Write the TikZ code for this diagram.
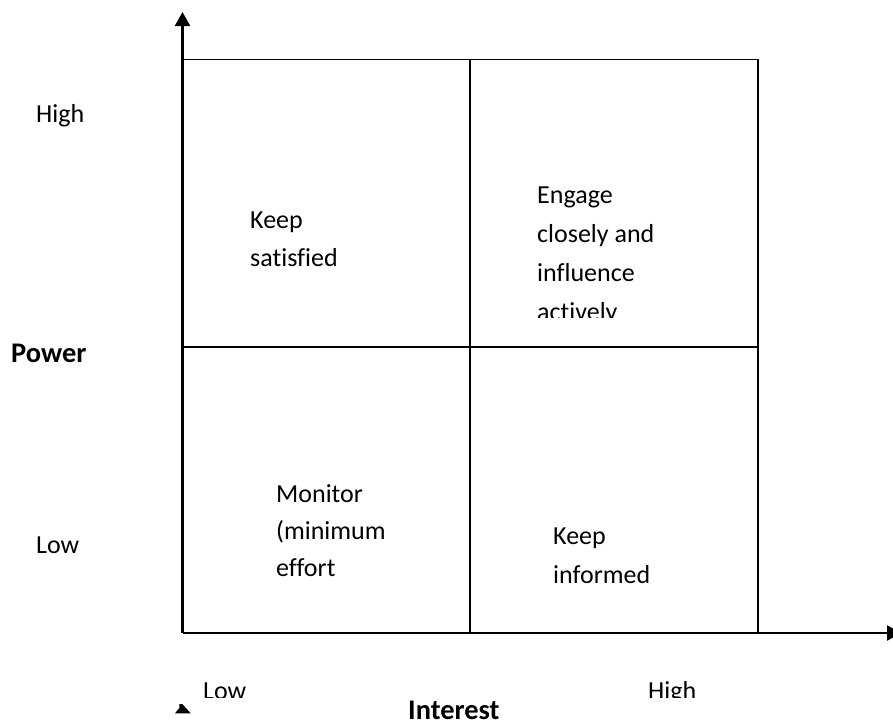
\documentclass[tikz,border=0pt]{standalone}
\usepackage{fontspec}
\setmainfont{Carlito}[Ligatures=NoCommon]
\usetikzlibrary{arrows.meta}
\begin{document}
\begin{tikzpicture}[x=1pt,y=-1pt,
  cell/.style={anchor=base west,inner sep=0pt,align=left,font=\fontsize{26}{#1}\selectfont},
  lbl/.style={anchor=base west,inner sep=0pt,font=\fontsize{26}{31}\selectfont},
  blbl/.style={anchor=base west,inner sep=0pt,font=\fontsize{28.4}{34}\selectfont\bfseries},
  gridline/.style={line width=1.6pt},
  axis/.style={line width=2.4pt,-{Triangle[length=14pt,width=15pt]}}]
\useasboundingbox (0,0) rectangle (893,724);
% axes
\coordinate (O) at (182.5,633);
\coordinate (ytip) at (182.5,12);
\coordinate (xtip) at (901,633);
\draw[axis] (O) -- (ytip);
\draw[axis] (O) -- (xtip);
% box
\coordinate (TL) at (182.5,59.5);
\coordinate (TR) at (758,59.5);
\coordinate (BR) at (758,633);
\coordinate (TM) at (470,59.5);
\coordinate (BM) at (470,633);
\coordinate (ML) at (182.5,347);
\coordinate (MR) at (758,347);
\draw[gridline] (TL) -- (TR) -- (BR);
\draw[gridline] (TM) -- (BM);
\draw[gridline] (ML) -- (MR);
% cell texts (base anchor = baseline of last line)
\node[cell=38] (ks) at (250,266) {Keep\\satisfied};
\begin{scope}
\clip (500,150) rectangle (760,317);
\node[cell=39] (eng) at (537,320) {Engage\\closely and\\influence\\actively};
\end{scope}
\node[cell=37] (mon) at (276,576.7) {Monitor\\(minimum\\effort};
\node[cell=39] (ki) at (553,583) {Keep\\informed};
% axis labels
\node[lbl] (hiP) at (36,122) {High};
\node[lbl] (loP) at (36,553) {Low};
\node[blbl] (pow) at (11,362) {Power};
\begin{scope}
\clip (190,670) rectangle (760,697);
\node[lbl] (loI) at (203,699.5) {Low};
\node[lbl] (hiI) at (648,699.5) {High};
\end{scope}
\node[blbl] (int) at (408,719.5) {Interest};
% small mark
\fill (175,713.3) -- (190.7,713.3) -- (182.3,704) -- (179.5,704) -- (179.3,708) -- cycle;
\end{tikzpicture}
\end{document}
